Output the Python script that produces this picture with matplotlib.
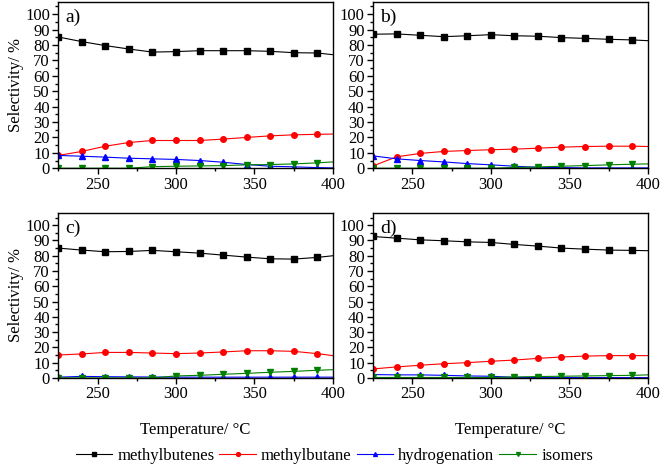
import matplotlib
matplotlib.use("Agg")
import matplotlib.pyplot as plt
from matplotlib.ticker import MultipleLocator

plt.rcParams['font.family'] = ['Liberation Serif', 'DejaVu Serif']

# temperatures (last value is the curve end, no marker)
temp = [225, 240, 255, 270, 285, 300, 315, 330, 345, 360, 375, 390, 400]

# panel a)
a_butenes = [85.2, 82.2, 79.6, 77.4, 75.4, 75.7, 76.3, 76.3, 76.3, 75.9, 75.0, 74.8, 73.7]
a_butane = [8.3, 10.9, 14.3, 16.7, 18.0, 18.0, 18.0, 18.9, 20.0, 21.0, 21.7, 22.0, 22.2]
a_hydro = [8.3, 7.8, 7.2, 6.5, 6.1, 5.7, 5.0, 3.9, 2.4, 1.3, 0.9, 0.4, 0.2]
a_isom = [0.0, 0.0, 0.0, 0.0, 1.0, 1.3, 1.5, 1.7, 2.2, 2.4, 2.8, 3.5, 4.1]

# panel b)
b_butenes = [87.0, 87.2, 86.3, 85.4, 86.0, 86.7, 86.0, 85.7, 84.8, 84.3, 83.7, 83.3, 82.8]
b_butane = [1.5, 7.4, 9.6, 10.9, 11.5, 12.0, 12.4, 13.0, 13.7, 14.1, 14.3, 14.3, 14.1]
b_hydro = [8.0, 6.1, 5.0, 4.1, 3.0, 2.2, 1.3, 0.6, 0.4, 0.2, 0.2, 0.2, 0.2]
b_isom = [0.0, 0.0, 0.0, 0.0, 0.0, 0.0, 0.5, 0.8, 1.3, 1.7, 2.2, 2.6, 2.8]

# panel c)
c_butenes = [85.0, 83.7, 82.6, 82.8, 83.5, 82.6, 81.7, 80.4, 79.1, 78.0, 77.8, 78.9, 80.0]
c_butane = [15.0, 15.7, 16.7, 16.7, 16.3, 15.9, 16.3, 17.0, 17.8, 17.8, 17.4, 15.9, 14.6]
c_hydro = [0.5, 1.0, 0.8, 0.7, 0.6, 0.5, 0.5, 0.5, 0.5, 0.5, 0.5, 0.5, 0.5]
c_isom = [0.0, 0.0, 0.0, 0.0, 0.0, 1.3, 1.7, 2.4, 3.0, 3.7, 4.3, 5.0, 5.4]

# panel d)
d_butenes = [92.6, 91.5, 90.4, 89.8, 89.1, 88.7, 87.4, 86.3, 85.0, 84.3, 83.7, 83.5, 83.3]
d_butane = [5.9, 7.2, 8.3, 9.3, 10.0, 10.9, 11.7, 12.8, 13.7, 14.3, 14.6, 14.6, 14.6]
d_hydro = [2.2, 2.0, 2.0, 1.7, 1.3, 1.1, 0.4, 0.2, 0.2, 0.2, 0.2, 0.2, 0.2]
d_isom = [0.3, 0.3, 0.3, 0.3, 0.3, 0.3, 0.6, 0.9, 1.1, 1.3, 1.5, 1.7, 2.0]

labels = ['methylbutenes', 'methylbutane', 'hydrogenation', 'isomers']
colors = ['black', 'red', 'blue', 'green']
markers = ['s', 'o', '^', 'v']
panels = {
    'a)': [a_butenes, a_butane, a_hydro, a_isom],
    'b)': [b_butenes, b_butane, b_hydro, b_isom],
    'c)': [c_butenes, c_butane, c_hydro, c_isom],
    'd)': [d_butenes, d_butane, d_hydro, d_isom],
}
positions = {
    'a)': [0.088, 0.639, 0.415, 0.357],
    'b)': [0.5635, 0.639, 0.415, 0.357],
    'c)': [0.088, 0.189, 0.415, 0.354],
    'd)': [0.5635, 0.189, 0.415, 0.354],
}

fig = plt.figure(figsize=(6.62, 4.66), dpi=100)

for name, series in panels.items():
    ax = fig.add_axes(positions[name])
    for vals, lab, col, mk in zip(series, labels, colors, markers):
        ax.plot(temp, vals, color=col, lw=0.8, marker=mk, markersize=4,
                markevery=slice(0, len(temp) - 1), label=lab)
    ax.set_xlim(225, 400)
    ax.set_ylim(0, 108)
    ax.xaxis.set_major_locator(MultipleLocator(50))
    ax.xaxis.set_minor_locator(MultipleLocator(25))
    ax.yaxis.set_major_locator(MultipleLocator(10))
    ax.yaxis.set_minor_locator(MultipleLocator(5))
    ax.tick_params(which='both', direction='out', top=False, right=False,
                   labelsize=12, width=1)
    ax.tick_params(which='major', length=4, pad=2)
    ax.tick_params(which='minor', length=2)
    for sp in ax.spines.values():
        sp.set_linewidth(1)
    ax.text(0.025, 0.96, name, transform=ax.transAxes, fontsize=14,
            va='top', ha='left')
    if name in ('a)', 'c)'):
        ax.set_ylabel('Selectivity/ %', fontsize=12, labelpad=1)
    if name in ('c)', 'd)'):
        ax.set_xlabel('Temperature/ °C', fontsize=12, labelpad=14)

handles, labs = ax.get_legend_handles_labels()
fig.legend(handles, labs, loc='center', bbox_to_anchor=(0.505, 0.022), ncol=4,
           frameon=False, fontsize=12, handlelength=2.2, handletextpad=0.3,
           columnspacing=0.3, markerscale=0.7)

fig.savefig('out.png', dpi=100)
